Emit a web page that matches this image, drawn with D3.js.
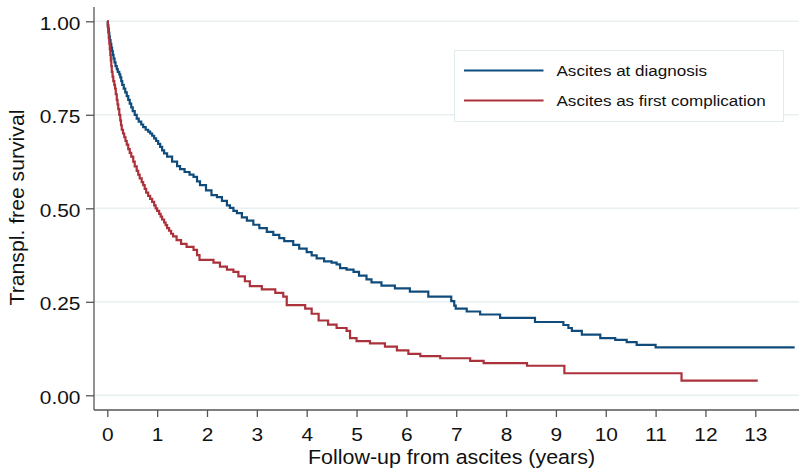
<!DOCTYPE html>
<html>
<head>
<meta charset="utf-8">
<script src="https://cdn.jsdelivr.net/npm/d3@7"></script>
<style>
  html, body { margin: 0; padding: 0; background: #fff; }
  svg { display: block; font-family: "Liberation Sans", Arial, Helvetica, sans-serif; }
</style>
</head>
<body>
<div id="chart"></div>
<script>
// Kaplan-Meier steps: time (years) where the curve steps, survival after the step
const diagTimes = [0, 0.01, 0.02, 0.03, 0.04, 0.05, 0.065, 0.08, 0.095, 0.11, 0.125, 0.145, 0.165, 0.19, 0.21, 0.24, 0.26, 0.28, 0.30, 0.33,
  0.36, 0.39, 0.42, 0.45, 0.48, 0.51, 0.55, 0.59, 0.63, 0.68, 0.72, 0.77, 0.82, 0.86, 0.90, 0.94, 0.98, 1.02, 1.06, 1.10,
  1.14, 1.20, 1.30, 1.40, 1.46, 1.55, 1.65, 1.73, 1.80, 1.86, 1.98, 2.09, 2.20, 2.30, 2.40, 2.46, 2.53, 2.60, 2.70, 2.80,
  2.93, 3.05, 3.20, 3.33, 3.45, 3.55, 3.73, 3.85, 4.00, 4.10, 4.20, 4.35, 4.50, 4.60, 4.67, 4.80, 4.94, 5.05, 5.20, 5.30,
  5.50, 5.77, 6.07, 6.44, 6.90, 6.96, 6.99, 7.21, 7.48, 7.88, 8.58, 9.15, 9.25, 9.32, 9.52, 9.89, 10.19, 10.42, 10.62, 11.00, 13.79];
const diagSurv = [1.00, 0.99, 0.98, 0.97, 0.96, 0.95, 0.94, 0.93, 0.92, 0.91, 0.90, 0.89, 0.88, 0.872, 0.865, 0.858, 0.85, 0.84, 0.83, 0.82,
  0.81, 0.80, 0.79, 0.78, 0.77, 0.76, 0.75, 0.74, 0.732, 0.724, 0.717, 0.71, 0.705, 0.70, 0.694, 0.687, 0.68, 0.672, 0.664, 0.655,
  0.647, 0.638, 0.625, 0.613, 0.605, 0.597, 0.590, 0.584, 0.572, 0.562, 0.548, 0.535, 0.530, 0.520, 0.508, 0.501, 0.493, 0.487, 0.476, 0.467,
  0.456, 0.447, 0.437, 0.429, 0.420, 0.412, 0.402, 0.392, 0.383, 0.374, 0.366, 0.358, 0.355, 0.350, 0.340, 0.336, 0.330, 0.320, 0.310, 0.302,
  0.293, 0.286, 0.277, 0.264, 0.252, 0.240, 0.232, 0.224, 0.216, 0.207, 0.196, 0.188, 0.180, 0.172, 0.162, 0.153, 0.148, 0.142, 0.135, 0.128, 0.128];

const firstTimes = [0, 0.01, 0.02, 0.03, 0.04, 0.05, 0.06, 0.07, 0.08, 0.09, 0.105, 0.12, 0.14, 0.155, 0.17, 0.19, 0.205, 0.22, 0.24, 0.26,
  0.275, 0.29, 0.315, 0.34, 0.365, 0.39, 0.42, 0.45, 0.48, 0.52, 0.55, 0.59, 0.62, 0.65, 0.69, 0.72, 0.75, 0.78, 0.82, 0.86,
  0.90, 0.94, 0.97, 1.00, 1.04, 1.07, 1.10, 1.14, 1.17, 1.20, 1.24, 1.28, 1.32, 1.39, 1.48, 1.59, 1.73, 1.80, 1.85, 2.13,
  2.26, 2.40, 2.53, 2.63, 2.76, 2.86, 3.10, 3.37, 3.53, 3.60, 3.97, 4.10, 4.24, 4.43, 4.60, 4.80, 4.87, 5.00, 5.27, 5.57,
  5.81, 6.04, 6.28, 6.68, 7.28, 7.55, 8.42, 9.17, 11.52, 13.05];
const firstSurv = [1.00, 0.985, 0.97, 0.955, 0.94, 0.925, 0.91, 0.895, 0.88, 0.865, 0.852, 0.84, 0.83, 0.82, 0.805, 0.79, 0.778, 0.765, 0.75, 0.735,
  0.722, 0.71, 0.70, 0.69, 0.68, 0.67, 0.658, 0.648, 0.638, 0.625, 0.612, 0.60, 0.59, 0.58, 0.57, 0.562, 0.552, 0.542, 0.533, 0.525,
  0.517, 0.508, 0.50, 0.493, 0.485, 0.478, 0.47, 0.462, 0.455, 0.447, 0.44, 0.432, 0.425, 0.415, 0.405, 0.397, 0.389, 0.375, 0.362, 0.355,
  0.344, 0.336, 0.330, 0.318, 0.305, 0.292, 0.283, 0.274, 0.264, 0.241, 0.232, 0.218, 0.200, 0.189, 0.180, 0.172, 0.153, 0.145, 0.139, 0.130,
  0.120, 0.111, 0.105, 0.099, 0.092, 0.086, 0.079, 0.059, 0.039, 0.039];

const seriesNames = ['Ascites at diagnosis', 'Ascites as first complication'];
const seriesColors = ['#104c7b', '#ab323b'];
const xTicks = d3.range(0, 14);
const yTicks = [0, 0.25, 0.5, 0.75, 1];

const W = 799, H = 470;
const axisX = 94, axisY = 410, plotTop = 7, plotRight = 799;
const stretchK = 1.1;

const svg = d3.select('#chart').append('svg')
  .attr('width', W)
  .attr('height', H);

const x = d3.scaleLinear().domain([0, 13]).range([107.3, 755.3]);
const y = d3.scaleLinear().domain([0, 1]).range([395.3, 21.3]);

// widen text along its own baseline, around its anchor
function stretch(sel, k) {
  sel.each(function () {
    const t = d3.select(this);
    const tx = +t.attr('x') || 0;
    const ty = +t.attr('y') || 0;
    const prev = t.attr('transform') || '';
    t.attr('transform', `${prev} translate(${tx},${ty}) scale(${k},1) translate(${-tx},${-ty})`);
  });
}

// grid lines
svg.append('g')
  .selectAll('line')
  .data(yTicks)
  .enter()
  .append('line')
  .attr('x1', axisX)
  .attr('x2', plotRight)
  .attr('y1', d => y(d))
  .attr('y2', d => y(d))
  .attr('stroke', '#e8f0f2')
  .attr('stroke-width', 1.6);

// Y axis
const yAxis = svg.append('g')
  .attr('transform', `translate(${axisX},0)`)
  .call(d3.axisLeft(y).tickValues(yTicks).tickFormat(d3.format('.2f')).tickSize(8).tickPadding(5.5));
yAxis.select('.domain').remove();
yAxis.selectAll('line').attr('stroke', '#555').attr('stroke-width', 1.3);
yAxis.selectAll('text')
  .attr('dy', '0.42em')
  .style('font-size', '19px')
  .style('fill', '#111')
  .call(stretch, stretchK);

// X axis
const xAxis = svg.append('g')
  .attr('transform', `translate(0,${axisY})`)
  .call(d3.axisBottom(x).tickValues(xTicks).tickFormat(d3.format('d')).tickSize(7).tickPadding(11));
xAxis.select('.domain').remove();
xAxis.selectAll('line').attr('stroke', '#555').attr('stroke-width', 1.3);
xAxis.selectAll('text')
  .style('font-size', '19px')
  .style('fill', '#111')
  .call(stretch, stretchK);

// axis lines
svg.append('line')
  .attr('x1', axisX).attr('x2', axisX)
  .attr('y1', plotTop).attr('y2', axisY)
  .attr('stroke', '#555').attr('stroke-width', 1.3);
svg.append('line')
  .attr('x1', axisX).attr('x2', plotRight)
  .attr('y1', axisY).attr('y2', axisY)
  .attr('stroke', '#555').attr('stroke-width', 1.3);

// survival curves
const line = d3.line()
  .x(d => x(d[0]))
  .y(d => y(d[1]))
  .curve(d3.curveStepAfter);

const series = [
  d3.zip(diagTimes, diagSurv),
  d3.zip(firstTimes, firstSurv)
];

svg.append('g')
  .selectAll('path')
  .data(series)
  .enter()
  .append('path')
  .attr('d', line)
  .attr('fill', 'none')
  .attr('stroke', (d, i) => seriesColors[i])
  .attr('stroke-width', 2.2)
  .attr('stroke-linejoin', 'miter');

// Legend
const legend = svg.append('g').attr('transform', 'translate(454.5,50.5)');
legend.append('rect')
  .attr('width', 329)
  .attr('height', 71)
  .attr('fill', '#fff')
  .attr('stroke', '#e2ebee')
  .attr('stroke-width', 1);

seriesNames.forEach((name, i) => {
  legend.append('line')
    .attr('x1', 9.5).attr('x2', 89)
    .attr('y1', 20 + i * 30).attr('y2', 20 + i * 30)
    .attr('stroke', seriesColors[i])
    .attr('stroke-width', 2.2);
  legend.append('text')
    .attr('x', 102)
    .attr('y', 25.5 + i * 30)
    .style('font-size', '15.5px')
    .style('fill', '#111')
    .text(name)
    .call(stretch, stretchK);
});

// X axis title
svg.append('text')
  .attr('x', 451.5)
  .attr('y', 464)
  .attr('text-anchor', 'middle')
  .style('font-size', '19.5px')
  .style('fill', '#111')
  .text('Follow-up from ascites (years)')
  .call(stretch, stretchK);

// Y axis title
svg.append('text')
  .attr('transform', `translate(24,207.5) rotate(-90) scale(1.06,1)`)
  .attr('text-anchor', 'middle')
  .style('font-size', '20px')
  .style('fill', '#111')
  .text('Transpl. free survival');
</script>
</body>
</html>
